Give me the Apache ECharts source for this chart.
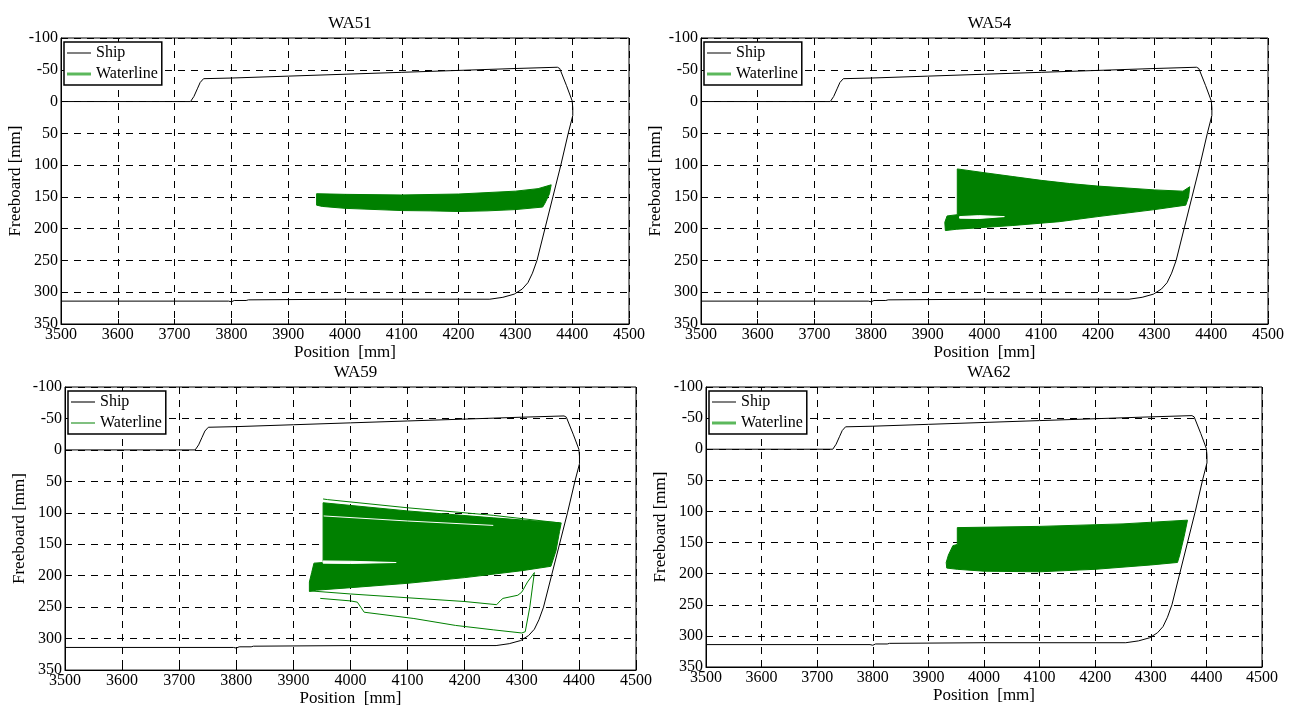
<!DOCTYPE html>
<html>
<head>
<meta charset="utf-8">
<script src="https://cdn.jsdelivr.net/npm/echarts@6/dist/echarts.min.js"></script>
<style>
html,body{margin:0;padding:0;background:#fff;}
#c{width:1295px;height:708px;}
</style>
</head>
<body>
<div id="c"></div>
<script>
// ---------------- DATA ----------------
const titles = ['WA51', 'WA54', 'WA59', 'WA62'];
const xName = 'Position  [mm]';
const yName = 'Freeboard [mm]';
const xRange = [3500, 4500, 100];   // min, max, step
const yRange = [-100, 350, 50];     // min, max, step (axis inverted)

// ship outline [position, freeboard]
const shipOutline = [
  [3500,0],[3728,0],[3734,-8],[3740,-20],[3745,-30],[3751,-36],[3800,-37],[3900,-40],
  [4000,-43],[4100,-46],[4200,-49],[4300,-52],[4374,-54],[4378,-52],[4390,-25],[4400,-1],
  [4401,10],[4401,22],[4393,50],[4380,100],[4366,150],[4352,200],[4338,250],[4330,270],
  [4322,285],[4312,295],[4298,303],[4278,308],[4255,311],[4200,311],[4000,311],[3830,312],
  [3826,313],[3805,313],[3800,315],[3795,314],[3500,314]
];

// waterline envelopes (dense band of waterline traces)
const wa51Band = [
  [3950,145],[4000,146],[4100,147],[4200,145.5],[4300,141],[4340,137],[4363,131],[4360,145],
  [4352,160],[4348,166],[4300,170],[4250,172],[4200,173],[4150,172],[4100,171.5],[4000,168],
  [3960,165],[3950,163]
];
const wa54Band = [
  [3952,106],[4000,112],[4050,118],[4100,124],[4150,129],[4200,133],[4300,139],[4350,141],
  [4362,134],[4360,150],[4355,163],[4300,170],[4200,181],[4132,189],[4050,195],[3950,201],
  [3931,203],[3930,190],[3934,180],[3952,178]
];
const wa54Gap = [[3956,181],[3990,179.5],[4035,181],[3990,184],[3956,183.5]];
const wa59Band = [
  [3952,84],[4100,97],[4250,108],[4369,116],[4366,130],[4360,160],[4351,185],[4300,192],
  [4200,203],[4100,212],[4000,219],[3940,223],[3928,225],[3928,210],[3932,195],[3936,180],
  [3952,179]
];
const wa59Gap = [[3952,176.5],[4000,177],[4080,179],[4000,180.5],[3952,180]];
const wa59Streak = [[3953,105],[4100,113],[4250,120]];
const wa59TopTrace = [[3952,78],[3960,79],[4100,92],[4250,104],[4366,116]];
const wa59TraceA = [
  [3928,224],[4000,229],[4100,235],[4200,241],[4256,246],[4262,240],[4267,236],[4293,231],
  [4300,226],[4310,210],[4322,195]
];
const wa59TraceB = [
  [3947,236],[4000,240],[4012,242],[4018,250],[4024,258],[4050,261],[4111,268],[4184,279],
  [4250,286],[4300,291],[4306,289],[4314,250],[4322,195]
];
const wa62Band = [
  [3952,126],[4100,124],[4250,120],[4366,114],[4360,140],[4352,170],[4348,182],[4300,186],
  [4200,193],[4100,197],[4000,196],[3952,193],[3933,191],[3932,182],[3936,170],[3944,155],
  [3952,153]
];

// ---------------- LAYOUT ----------------
const FONT = 'Liberation Serif';
const GREEN = '#008000';
const grids = [
  {left:61, top:38, width:568, height:286},
  {left:701, top:38, width:567, height:286},
  {left:65, top:387, width:571, height:286},
  {left:706, top:387, width:556, height:280}
];
const bands = [wa51Band, wa54Band, wa59Band, wa62Band];
const gaps = [null, wa54Gap, wa59Gap, null];

function polyRender(poly, fill) {
  return function (params, api) {
    if (params.dataIndex !== 0) return null;
    const pts = poly.map(p => api.coord(p));
    return {type:'polygon', shape:{points:pts},
      style:{fill: fill, stroke: fill, lineWidth: 1}};
  };
}
const plain = v => String(v);

const option = {
  animation: false,
  backgroundColor: '#fff',
  title: [], grid: [], xAxis: [], yAxis: [], legend: [], series: []
};

grids.forEach((g, i) => {
  option.grid.push(Object.assign({show:true, borderColor:'#000', borderWidth:1, containLabel:false}, g));
  option.title.push({
    text: titles[i], left: g.left + g.width / 2, top: g.top - 28, textAlign: 'center',
    textStyle: {fontFamily: FONT, fontSize: 17, fontWeight: 'normal', color: '#000'}
  });
  option.xAxis.push({
    type:'value', gridIndex:i, min:xRange[0], max:xRange[1], interval:xRange[2],
    name:xName, nameLocation:'middle', nameGap:19,
    nameTextStyle:{fontFamily:FONT, fontSize:17, color:'#000'},
    axisLine:{show:true, onZero:false, lineStyle:{color:'#000', width:1}},
    axisTick:{show:true, inside:true, length:5, lineStyle:{color:'#000'}},
    axisLabel:{fontFamily:FONT, fontSize:16, color:'#000', margin:3, formatter:plain},
    splitLine:{show:true, lineStyle:{color:'#000', type:[7,6], width:1}}
  });
  option.yAxis.push({
    type:'value', gridIndex:i, min:yRange[0], max:yRange[1], interval:yRange[2], inverse:true,
    name:yName, nameLocation:'middle', nameGap:37, nameRotate:90,
    nameTextStyle:{fontFamily:FONT, fontSize:17, color:'#000'},
    axisLine:{show:true, onZero:false, lineStyle:{color:'#000', width:1}},
    axisTick:{show:true, inside:true, length:5, lineStyle:{color:'#000'}},
    axisLabel:{fontFamily:FONT, fontSize:16, color:'#000', margin:3, formatter:plain},
    splitLine:{show:true, lineStyle:{color:'#000', type:[7,6], width:1}}
  });
  const thin = (i === 2);
  option.legend.push({
    left: g.left + 3, top: g.top + 4, orient:'vertical', selectedMode:false,
    itemWidth:24, itemHeight:14, itemGap:5, padding:[3,4,3,3],
    borderColor:'#000', borderWidth:1.5, backgroundColor:'#fff', borderRadius:0,
    textStyle:{fontFamily:FONT, fontSize:16, color:'#000'},
    data:[
      {name:'Ship', icon:'path://M0,0H24V' + (thin ? '2' : '1') + 'H0Z',
       itemStyle:{color: thin ? '#777' : '#000'}},
      {name:'Waterline', icon:'path://M0,0H24V' + (thin ? '1' : '3') + 'H0Z',
       itemStyle:{color: thin ? GREEN : '#5cb85c'}}
    ]
  });
  option.series.push({
    name:'Ship', type:'line', xAxisIndex:i, yAxisIndex:i, data:shipOutline,
    symbol:'none', lineStyle:{color:'#000', width:1}, itemStyle:{color:'#000'}, z:3
  });
  option.series.push({
    name:'Waterline', type:'custom', xAxisIndex:i, yAxisIndex:i, data:bands[i],
    encode:{x:0, y:1}, renderItem:polyRender(bands[i], GREEN), itemStyle:{color:GREEN}, z:4, silent:true
  });
  if (gaps[i]) {
    option.series.push({
      name:'gap' + i, type:'custom', xAxisIndex:i, yAxisIndex:i, data:gaps[i],
      encode:{x:0, y:1}, renderItem:polyRender(gaps[i], '#fff'), z:5, silent:true
    });
  }
});

// extra traces in WA59
[wa59TopTrace, wa59TraceA, wa59TraceB].forEach(tr => {
  option.series.push({
    name:'Waterline', type:'line', xAxisIndex:2, yAxisIndex:2, data:tr, symbol:'none',
    lineStyle:{color:GREEN, width:1}, itemStyle:{color:GREEN}, z:4, silent:true
  });
});
option.series.push({
  name:'streak', type:'line', xAxisIndex:2, yAxisIndex:2, data:wa59Streak, symbol:'none',
  lineStyle:{color:'#fff', width:1}, z:5, silent:true
});

const chart = echarts.init(document.getElementById('c'), null, {renderer:'canvas'});
chart.setOption(option);
</script>
</body>
</html>
